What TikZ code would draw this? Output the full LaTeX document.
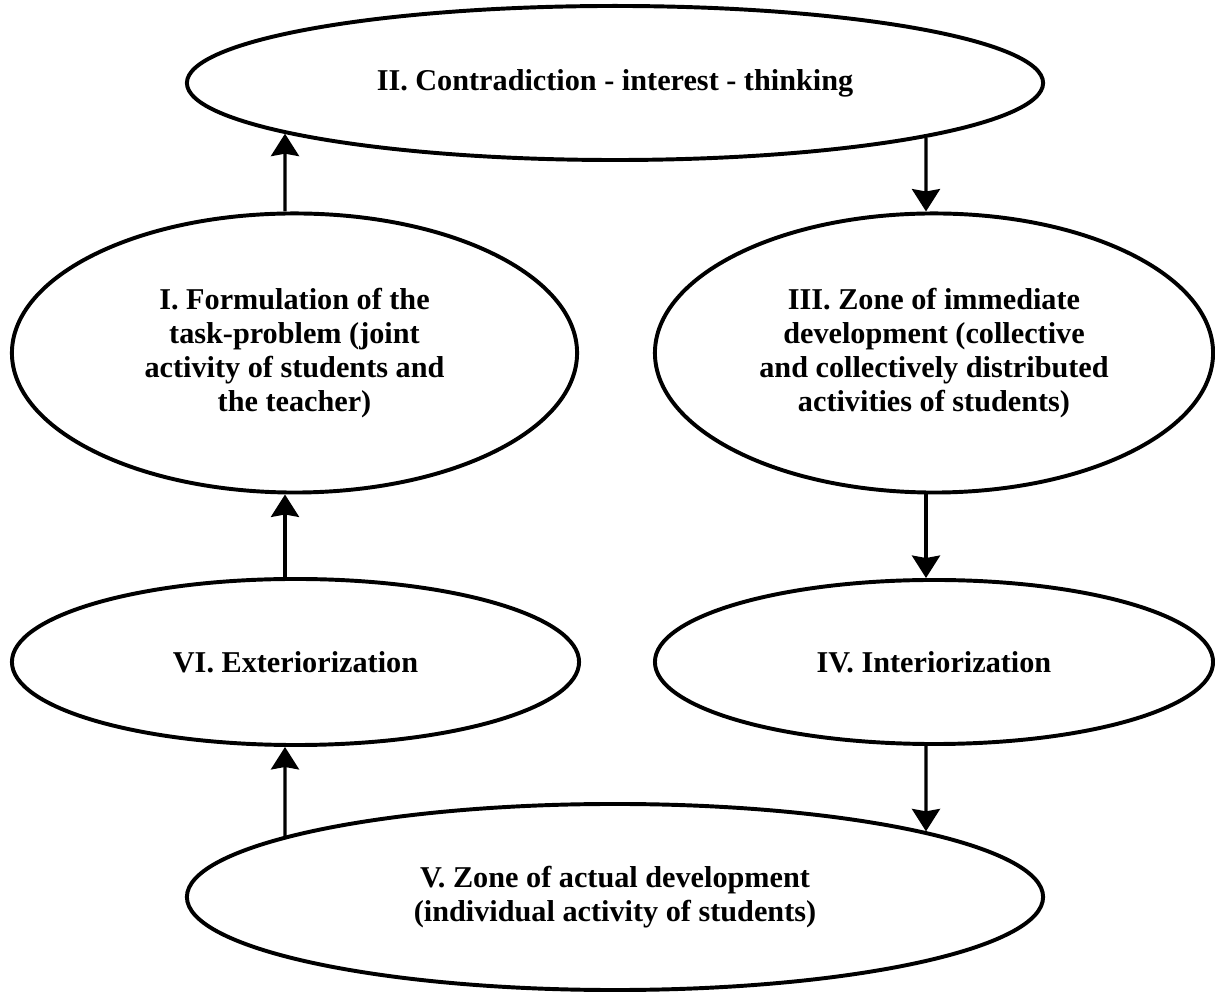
\documentclass[tikz,border=0pt]{standalone}
\usepackage{fontspec}
\setmainfont{Liberation Serif}
\usepackage{tikz}
\usetikzlibrary{shapes.geometric,arrows.meta,intersections}

\begin{document}
\begin{tikzpicture}[x=0.025cm, y=0.025cm,
    stage/.style={ellipse, draw, line width=2.8pt, inner sep=0pt, align=center,
        font=\bfseries\fontsize{21.5}{24}\selectfont},
    flow/.style={draw, line width=2.4pt, -{Stealth[length=0.56cm, width=0.7cm, inset=0.06cm]}}]
    \useasboundingbox (0,0) rectangle (1215,992);
    % Top and bottom stages
    \node[stage, minimum width=21.4cm, minimum height=3.85cm] (II) at (615,909) {II. Contradiction - interest - thinking};
    \node[stage, minimum width=21.4cm, minimum height=4.65cm] (V) at (615,95) {V. Zone of actual development\\(individual activity of students)};
    % Left column
    \node[stage, minimum width=14.125cm, minimum height=6.975cm] (I) at (294.5,639) {I. Formulation of the\\task-problem (joint\\activity of students and\\the teacher)};
    \node[stage, minimum width=14.175cm, minimum height=4.15cm] (VI) at (295.5,330) {VI. Exteriorization};
    % Right column
    \node[stage, minimum width=13.95cm, minimum height=6.975cm] (III) at (934,639) {III. Zone of immediate\\development (collective\\and collectively distributed\\activities of students)};
    \node[stage, minimum width=13.95cm, minimum height=4.1cm] (IV) at (934,330) {IV. Interiorization};
    % Rims of the wide ellipses and arrow columns
    \path[name path=rimII] (II.center) ellipse [x radius=10.75cm, y radius=1.975cm];
    \path[name path=rimV] (V.center) ellipse [x radius=10.75cm, y radius=2.375cm];
    \path[name path=upI] ([xshift=-0.2375cm]I.north) -- ++(0,3cm);
    \path[name path=downVI] ([xshift=-0.2625cm]VI.south) -- ++(0,-3cm);
    \path[name path=upIII] ([xshift=-0.2cm]III.north) -- ++(0,3cm);
    \path[name path=downIV] ([xshift=-0.2cm]IV.south) -- ++(0,-3cm);
    \path[name intersections={of=upI and rimII, by=toII}];
    \path[name intersections={of=upIII and rimII, by=fromII}];
    \path[name intersections={of=downIV and rimV, by=toV}];
    \path[name intersections={of=downVI and rimV, by=fromV}];
    % Cycle
    \draw[flow] ([xshift=-0.2375cm]I.north) -- (toII);
    \draw[flow] (fromII) -- ([xshift=-0.2cm]III.north);
    \draw[flow] ([xshift=-0.2cm]III.south) -- ([xshift=-0.2cm]IV.north);
    \draw[flow] ([xshift=-0.2cm]IV.south) -- (toV);
    \draw[flow] (fromV) -- ([xshift=-0.2625cm]VI.south);
    \draw[flow] ([xshift=-0.2625cm]VI.north) -- ([xshift=-0.2375cm]I.south);
\end{tikzpicture}
\end{document}
